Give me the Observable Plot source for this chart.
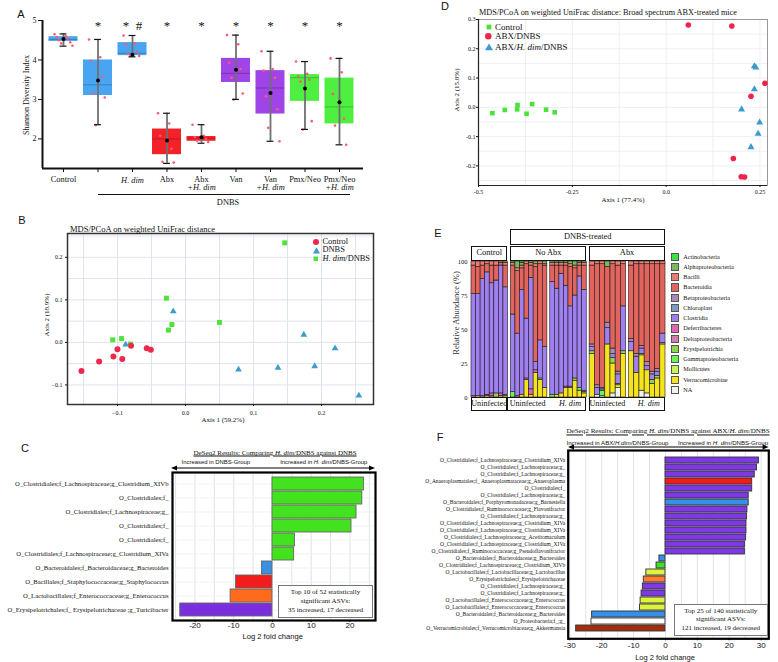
<!DOCTYPE html>
<html><head><meta charset="utf-8">
<script src="https://cdn.jsdelivr.net/npm/d3@7"></script>
<script src="https://cdn.jsdelivr.net/npm/@observablehq/plot@0.6"></script>
<style>
body{margin:0;background:#fff;}
#root{position:relative;width:778px;height:662px;overflow:hidden;background:#fff;}
.abs{position:absolute;white-space:nowrap;line-height:1;color:#111;}
svg{overflow:visible;}
</style></head><body><div id="root"></div>
<script>
// ---------------- DATA ----------------
// Panel A: Shannon diversity
const aNames = ["Control","DNBS","H. dim/DNBS","Abx/DNBS","Abx+H. dim/DNBS","Van/DNBS","Van+H. dim/DNBS","Pmx/Neo/DNBS","Pmx/Neo+H. dim/DNBS"];
const aTick1 = ["Control","","H. dim","Abx","Abx","Van","Van","Pmx/Neo","Pmx/Neo"];
const aTick2 = ["","","","","+H. dim","","+H. dim","","+H. dim"];
const aTick1Italic = [false,false,true,false,false,false,false,false,false];
const aSig = ["","*","*\u2002#","*","*","*","*","*","*"];
const aClass = ["ctrl","ctrl","ctrl","abx","abx","van","van","pmx","pmx"];
const aQ1   = [4.47,3.10,4.11,1.60,1.94,3.43,2.63,2.95,2.38];
const aQ3   = [4.59,4.00,4.44,2.25,2.06,4.04,3.73,3.63,3.54];
const aMed  = [4.52,3.37,4.17,2.00,2.02,3.66,3.29,3.55,2.81];
const aMean = [4.53,3.48,4.13,1.96,2.04,3.75,3.16,3.28,2.93];
const aMin  = [4.35,2.36,4.08,1.38,1.89,3.00,1.94,2.24,1.85];
const aMax  = [4.66,4.52,4.62,2.65,2.36,4.63,4.22,3.96,4.04];
const aPoints = [
  [4.65,4.60,4.58,4.55,4.50,4.45,4.42,4.36],
  [4.52,4.07,3.98,3.58,3.15,3.05,2.35],
  [4.62,4.42,4.40,4.20,4.15,4.10,4.10],
  [2.65,2.39,2.08,1.75,1.42,1.40],
  [2.36,2.08,2.05,2.00,1.95,1.92],
  [4.63,4.40,3.93,3.77,3.55,3.15,3.00],
  [4.22,3.77,3.73,3.55,3.08,2.75,2.28,1.94],
  [3.96,3.65,3.58,3.50,3.45,2.45,2.24],
  [4.04,3.69,3.14,2.51,2.34,1.85]
];
const aYTicks = [2,3,4,5];

// Panel B: PCoA
const bGroups = ["Control","DNBS","H. dim/DNBS"];
const bCtrlX = [-0.153,-0.127,-0.106,-0.100,-0.093,-0.080,-0.057,-0.051];
const bCtrlY = [-0.067,-0.045,-0.033,-0.016,-0.039,-0.008,-0.014,-0.017];
const bDnbsX = [-0.088,-0.018,0.078,0.136,0.174,0.190,0.220,0.255];
const bDnbsY = [-0.005,0.073,-0.064,-0.060,0.018,-0.056,-0.014,-0.125];
const bHdimX = [-0.107,-0.094,-0.081,-0.028,-0.025,-0.020,0.050,0.146];
const bHdimY = [0.006,0.009,-0.004,0.104,0.029,0.042,0.047,0.234];
const bXTicks = [-0.1,0,0.1,0.2];
const bYTicks = [-0.1,0,0.1,0.2];

// Panel C: DESeq2 H. dim/DNBS vs DNBS
const cLabels = [
  "O_Clostridiales;f_Lachnospiraceae;g_Clostridium_XIVb",
  "O_Clostridiales;f_",
  "O_Clostridiales;f_Lachnospiraceae;g_",
  "O_Clostridiales;f_",
  "O_Clostridiales;f_",
  "O_Clostridiales;f_Lachnospiraceae;g_Clostridium_XIVa",
  "O_Bacteroidales;f_Bacteroidaceae;g_Bacteroides",
  "O_Bacillales;f_Staphylococcaceae;g_Staphylococcus",
  "O_Lactobacillales;f_Enterococcaceae;g_Enterococcus",
  "O_Erysipelotrichales;f_ Erysipelotrichaceae ;g_Turicibacter"
];
const cValues = [23.6,23.2,21.7,20.4,5.8,5.6,-2.7,-9.4,-10.8,-23.8];
const cOrder = ["Clostridiales","Clostridiales","Clostridiales","Clostridiales","Clostridiales","Clostridiales","Bacteroidales","Bacillales","Lactobacillales","Erysipelotrichales"];
const cXTicks = [-20,-10,0,10,20];

// Panel D: PCoA ABX-treated
const dGroups = ["Control","ABX/DNBS","ABX/H. dim/DNBS"];
const dCtrlX = [-0.463,-0.430,-0.396,-0.397,-0.372,-0.357,-0.320,-0.297];
const dCtrlY = [-0.020,-0.009,0.008,-0.007,-0.022,0.011,-0.008,-0.017];
const dAbxX = [0.059,0.175,0.263,0.226,0.179,0.200,0.209];
const dAbxY = [0.281,0.278,0.082,0.038,-0.175,-0.237,-0.238];
const dHdimX = [0.235,0.239,0.235,0.201,0.249,0.245,0.226];
const dHdimY = [0.140,0.136,0.062,-0.007,-0.052,-0.090,-0.136];
const dXTicks = [-0.5,-0.25,0,0.25];
const dYTicks = [-0.2,-0.1,0,0.1,0.2,0.3];

// Panel E: relative abundance (legend order; columns of each row)
const eTaxa = ["Actinobacteria","Alphaproteobacteria","Bacilli","Bacteroidia","Betaproteobacteria","Chloroplast","Clostridia","Deferribacteres","Deltaproteobacteria","Erysipelotrichia","Gammaproteobacteria","Mollicutes","Verrucomicrobiae","NA"];
const eCtrl = [
  [0,0,3,21,0,0,75,0,1,0,0,0,0,0],
  [0,0,4,20,0,0,75,0,0,0,0,0,1,0],
  [0,0,3,10,0,0,86,0,1,0,0,0,0,0],
  [0,0,2,6,0,0,90,1,0,0,0,0,1,0],
  [0,0,3,13,0,0,81,2,1,0,0,0,0,0],
  [0,0,3,11,0,0,83,0,0,3,0,0,0,0],
  [0,0,1,2,0,0,94,2,0,0,0,0,1,0],
  [0,1,2,16,0,0,79,0,0,1,0,0,1,0]
];
const eNoAbxUninf = [
  [0,1,2,36,0,0,57,0,0,0,4,0,0,0],
  [0,5,2,46,0,0,46,1,0,0,0,0,0,0],
  [1,2,2,16,0,0,77,0,0,0,0,0,2,0],
  [0,0,2,40,0,0,44,0,1,0,0,0,13,0],
  [0,1,2,9,0,0,82,4,0,0,0,0,2,0],
  [0,2,2,70,0,0,6,2,0,0,0,0,18,0],
  [0,0,2,56,0,0,28,0,0,0,1,0,13,0],
  [0,2,1,60,0,0,30,0,0,0,0,0,7,0]
];
const eNoAbxHdim = [
  [0,1,2,12,0,0,83,0,0,0,2,0,0,0],
  [0,1,2,17,0,0,78,0,0,0,0,0,2,0],
  [0,1,2,6,0,0,88,0,0,0,0,0,3,0],
  [0,1,2,15,0,0,74,0,1,0,0,0,7,0],
  [0,2,2,29,0,0,59,0,1,0,0,0,7,0],
  [0,3,2,20,0,0,61,0,0,2,0,0,12,0],
  [0,1,2,8,0,0,82,0,0,0,2,0,5,0],
  [0,1,2,18,0,0,74,0,1,0,1,0,3,0]
];
const eAbxUninf = [
  [0,0,3,58,2,0,3,0,0,2,0,0,32,0],
  [0,0,2,89,2,0,5,0,0,0,0,0,0,2],
  [0,0,2,91,1,0,1,0,0,0,4,0,0,1],
  [0,4,0,41,4,0,12,0,0,0,0,0,39,0],
  [0,0,2,62,4,0,3,0,0,4,0,0,22,3],
  [0,0,3,78,2,0,7,0,0,1,0,0,2,7],
  [0,0,2,31,0,0,33,0,0,2,0,0,32,0]
];
const eAbxHdim = [
  [0,0,3,54,2,0,7,0,0,0,0,0,34,0],
  [0,0,2,66,2,0,12,0,0,0,0,0,18,0],
  [0,0,2,60,2,0,4,0,0,1,0,0,26,5],
  [0,0,2,72,3,0,3,0,0,0,0,0,17,3],
  [0,0,2,79,2,0,4,0,0,3,0,0,10,0],
  [0,0,2,77,2,0,3,0,0,2,0,0,14,0],
  [0,0,2,51,0,0,7,0,0,1,0,0,39,0]
];
const eYTicks = [0,25,50,75,100];

// Panel F: DESeq2 H. dim/DNBS vs ABX/H. dim/DNBS
const fLabels = [
  "O_Clostridiales;f_Lachnospiraceae;g_Clostridium_XIVa",
  "O_Clostridiales;f_Lachnospiraceae;g_",
  "O_Clostridiales;f_Lachnospiraceae;g_",
  "O_Anaeroplasmatales;f_ Anaeroplasmataceae;g_Anaeroplasma",
  "O_Clostridiales;f_",
  "O_Clostridiales;f_Lachnospiraceae;g_",
  "O_Bacteroidales;f_Porphyromonadaceae;g_Barnesiella",
  "O_Clostridiales;f_Ruminococcaceae;g_Flavonifractor",
  "O_Clostridiales;f_Lachnospiraceae;g_",
  "O_Clostridiales;f_Lachnospiraceae;g_Clostridium_XIVa",
  "O_Clostridiales;f_Lachnospiraceae;g_Clostridium_XIVa",
  "O_Clostridiales;f_Lachnospiraceae;g_Acetitomaculum",
  "O_Clostridiales;f_Lachnospiraceae;g_Clostridium_XIVa",
  "O_Clostridiales;f_Ruminococcaceae;g_Pseudoflavonifractor",
  "O_Bacteroidales;f_Bacteroidaceae;g_Bacteroides",
  "O_Clostridiales;f_Lachnospiraceae;g_Clostridium_XIVb",
  "O_Lactobacillales;f_Lactobacillaceae;g_Lactobacillus",
  "O_Erysipelotrichales;f_Erysipelotrichaceae",
  "O_Clostridiales;f_Lachnospiraceae;g_",
  "O_Clostridiales;f_Lachnospiraceae;g_",
  "O_Lactobacillales;f_Enterococcaceae;g_Enterococcus",
  "O_Lactobacillales;f_Enterococcaceae;g_Enterococcus",
  "O_Bacteroidales;f_Bacteroidaceae;g_Bacteroides",
  "O_Proteobacteria;f_;g_",
  "O_Verrucomicrobiales;f_Verrucomicrobiaceae;g_Akkermansia"
];
const fValues = [29.3,28.7,28.0,27.2,27.2,26.1,26.1,25.7,25.6,25.4,25.4,25.3,24.9,24.9,-1.9,-2.8,-6.0,-6.8,-7.1,-7.5,-7.8,-8.0,-23.0,-23.2,-28.0];
const fGroup = ["Clostridiales","Clostridiales","Clostridiales","Anaeroplasmatales","Clostridiales","Clostridiales","Bacteroidales","Clostridiales","Clostridiales","Clostridiales","Clostridiales","Clostridiales","Clostridiales","Clostridiales","Bacteroidales","Clostridium_XIVb","Lactobacillales","Erysipelotrichales","Clostridiales","Clostridiales","Lactobacillales","Lactobacillales","Bacteroidales","Proteobacteria","Verrucomicrobiales"];
const fXTicks = [-30,-20,-10,0,10,20,30];

// ---------------- STYLE ----------------
const serif = '"Liberation Serif", "Times New Roman", serif';
const sans = '"Liberation Sans", Arial, sans-serif';
const aColors = {ctrl:"#3f9ff0", abx:"#f2161e", van:"#9a3ae6", pmx:"#45ee36"};
const bColors = ["#f0274c","#3e9ccc","#4fe33a"];
const dColors = ["#4be33a","#f0244a","#3e9ccc"];
const cColors = {Clostridiales:"#43e21f", Bacteroidales:"#3b8fe0", Bacillales:"#f21c1c", Lactobacillales:"#ff6b1c", Erysipelotrichales:"#7a2fdc"};
const fColors = {Clostridiales:"#7f38e6", Anaeroplasmatales:"#f51a1a", Bacteroidales:"#3490e8", Clostridium_XIVb:"#3fe023", Lactobacillales:"#dff23e", Erysipelotrichales:"#ff7b2e", Proteobacteria:"#ffffff", Verrucomicrobiales:"#a3300c"};
const eColors = ["#3ee04a","#7ab860","#ea7c70","#e2645c","#a88ab8","#7b9cc0","#a07ff0","#e464b4","#d27fb0","#8fd44a","#6cf25a","#c8f25c","#f5e31c","#eef3ee"];

// ---------------- HELPERS ----------------
const root = document.getElementById("root");
function put(node, left, top) {
  node.style.position = "absolute";
  node.style.left = left + "px";
  node.style.top = top + "px";
  root.appendChild(node);
  return node;
}
function txt(html, x, y, size, family, anchor, extra) {
  const d = document.createElement("div");
  d.className = "abs";
  d.innerHTML = html;
  d.style.fontSize = size + "px";
  d.style.fontFamily = family;
  const tr = {c:"translate(-50%,-50%)", l:"translate(0,-50%)", r:"translate(-100%,-50%)", rot:"translate(-50%,-50%) rotate(-90deg)"}[anchor || "c"];
  d.style.transform = tr;
  if (extra) d.style.cssText += extra;
  return put(d, x, y);
}
function hline(x1, x2, y, w) {
  const d = document.createElement("div");
  d.style.width = (x2 - x1) + "px";
  d.style.height = "0px";
  d.style.borderTop = (w || 1) + "px solid #111";
  return put(d, x1, y);
}
function arrowLine(x1, x2, y) {
  const w = x2 - x1;
  const s = document.createElementNS("http://www.w3.org/2000/svg", "svg");
  s.setAttribute("width", w); s.setAttribute("height", 6);
  s.innerHTML = `<line x1="3" y1="3" x2="${w-3}" y2="3" stroke="#000" stroke-width="1"/>
    <path d="M0,3L6,0.6L6,5.4Z" fill="#000"/><path d="M${w},3L${w-6},0.6L${w-6},5.4Z" fill="#000"/>`;
  return put(s, x1, y - 3);
}
function box(html, x, y, w, h, size, lh, border) {
  const d = document.createElement("div");
  d.className = "abs";
  d.style.cssText += `width:${w}px;height:${h}px;box-sizing:border-box;border:${border};background:#fff;display:flex;align-items:center;justify-content:center;text-align:center;font-family:${serif};font-size:${size}px;line-height:${lh}px;`;
  d.innerHTML = html;
  return put(d, x, y);
}
function symbolSvg(shape, color, s) {
  let inner;
  if (shape === "circle") inner = `<circle cx="${s/2}" cy="${s/2}" r="${s/2}" fill="${color}"/>`;
  else if (shape === "square") inner = `<rect x="${s*0.1}" y="${s*0.1}" width="${s*0.8}" height="${s*0.8}" fill="${color}"/>`;
  else inner = `<path d="M${s/2},${s*0.05}L${s},${s*0.92}L0,${s*0.92}Z" fill="${color}"/>`;
  const d = document.createElement("div");
  d.innerHTML = `<svg width="${s}" height="${s}">${inner}</svg>`;
  d.style.lineHeight = "0";
  return d;
}
function legendRow(shape, color, s, sx, y, label, tx, size) {
  const d = symbolSvg(shape, color, s);
  put(d, sx - s/2, y - s/2);
  txt(label, tx, y, size, serif, "l");
}
const plotStyle = {fontFamily: serif, fontSize: "7px", background: "transparent", overflow: "visible", color: "#111"};

// ---------------- PANEL A ----------------
const aXDomain = [-0.609, 8.696];
const aYDomain = [1.25, 5.0];
const aBoxes = aNames.map((name, i) => ({i, name, q1: aQ1[i], q3: aQ3[i], med: aMed[i], mean: aMean[i], lo: aMin[i], hi: aMax[i], cls: aClass[i], t1: aTick1[i], t2: aTick2[i], it: aTick1Italic[i], sig: aSig[i]}));
const aPts = aPoints.flatMap((vals, i) => vals.map((v, k) => ({i, v, k})));
const jit = k => (((k * 5) % 9) - 4) * 0.065;
const hw = 0.42;
const chartA = Plot.plot({
  width: 390, height: 215, marginLeft: 42, marginRight: 27, marginTop: 20, marginBottom: 47,
  style: plotStyle,
  x: {domain: aXDomain},
  y: {domain: aYDomain},
  color: {domain: Object.keys(aColors), range: Object.values(aColors)},
  marks: [
    Plot.rect(aBoxes, {x1: d => d.i - hw, x2: d => d.i + hw, y1: "q1", y2: "q3", fill: "cls", fillOpacity: 0.95}),
    Plot.ruleY(aBoxes, {y: "med", x1: d => d.i - hw, x2: d => d.i + hw, stroke: "#000", strokeOpacity: 0.22}),
    Plot.dot(aPts, {x: d => d.i + jit(d.k), y: "v", r: 1.3, fill: "#ff5a70"}),
    Plot.ruleX(aBoxes, {x: "i", y1: "lo", y2: "hi", stroke: "#707070", strokeWidth: 1.8}),
    Plot.ruleY(aBoxes, {y: "lo", x1: d => d.i - 0.1, x2: d => d.i + 0.1, stroke: "#111", strokeWidth: 1.2}),
    Plot.ruleY(aBoxes, {y: "hi", x1: d => d.i - 0.1, x2: d => d.i + 0.1, stroke: "#111", strokeWidth: 1.2}),
    Plot.dot(aBoxes, {x: "i", y: "mean", r: 2, fill: "#000"}),
    Plot.ruleY([aYDomain[0]], {stroke: "#111", strokeWidth: 2}),
    Plot.ruleX([aXDomain[0]], {stroke: "#111", strokeWidth: 2}),
    Plot.axisY({ticks: aYTicks, tickFormat: d => String(d), tickSize: 4, tickPadding: 2, fontSize: 8, fontFamily: serif, label: null}),
    Plot.axisX({ticks: d3.range(aNames.length), tickSize: 4, tickFormat: () => "", label: null}),
    Plot.text(aBoxes.filter(d => !d.it), {x: "i", text: "t1", frameAnchor: "bottom", dy: 13, fontSize: 8.4, fontFamily: serif, fill: "#111"}),
    Plot.text(aBoxes.filter(d => d.it), {x: "i", text: "t1", frameAnchor: "bottom", dy: 14, fontSize: 8.4, fontFamily: serif, fontStyle: "italic", fill: "#111"}),
    Plot.text(aBoxes, {x: "i", text: "t2", frameAnchor: "bottom", dy: 21.5, fontSize: 8.4, fontFamily: serif, fontStyle: "italic", fill: "#111"}),
    Plot.text(aBoxes, {x: "i", text: "sig", frameAnchor: "top", dy: 0, fontSize: 13, fontFamily: serif, fill: "#111"})
  ]
});
put(chartA, 0, 0);
txt("A", 21, 13.5, 11, sans);
txt("Shannon Diversity Index", 27, 95, 8, serif, "rot");
hline(98, 350, 194, 1);
txt("DNBS", 228, 202.5, 8.4, serif);

// ---------------- PANEL B ----------------
const bRows = [
  ...bCtrlX.map((x, k) => ({x, y: bCtrlY[k], g: bGroups[0]})),
  ...bDnbsX.map((x, k) => ({x, y: bDnbsY[k], g: bGroups[1]})),
  ...bHdimX.map((x, k) => ({x, y: bHdimY[k], g: bGroups[2]}))
];
const chartB = Plot.plot({
  width: 385, height: 210, marginLeft: 67, marginRight: 12, marginTop: 11, marginBottom: 28,
  style: plotStyle,
  x: {domain: [-0.1735, 0.2765]},
  y: {domain: [-0.146, 0.256]},
  color: {domain: bGroups, range: bColors},
  marks: [
    Plot.gridX({ticks: d3.range(-0.15, 0.276, 0.05), stroke: "#dfe3ee", strokeOpacity: 1}),
    Plot.gridY({ticks: d3.range(-0.1, 0.256, 0.05), stroke: "#dfe3ee", strokeOpacity: 1}),
    Plot.frame({stroke: "#333", strokeWidth: 1.5}),
    Plot.axisX({ticks: bXTicks, tickFormat: d3.format(".1f"), tickSize: 2, tickPadding: 4, fontSize: 6, label: null}),
    Plot.axisY({ticks: bYTicks, tickFormat: d3.format(".1f"), tickSize: 2, tickPadding: 3, fontSize: 6, label: null}),
    Plot.dot(bRows.filter(d => d.g === bGroups[2]), {x: "x", y: "y", fill: "g", symbol: "square", r: 2.8}),
    Plot.dot(bRows.filter(d => d.g === bGroups[0]), {x: "x", y: "y", fill: "g", symbol: "circle", r: 3}),
    Plot.dot(bRows.filter(d => d.g === bGroups[1]), {x: "x", y: "y", fill: "g", symbol: "triangle", r: 2.5})
  ]
});
put(chartB, 0, 222);
txt("B", 22, 220, 11, sans);
txt("MDS/PCoA on weighted UniFrac distance", 70, 229, 8.5, serif, "l");
txt("Axis 1 (59.2%)", 223, 420, 7, serif);
txt("Axis 2 (18.9%)", 47, 315, 7, serif, "rot");
legendRow("circle", bColors[0], 6, 316, 242.3, "Control", 322.5, 8.4);
legendRow("triangle", bColors[1], 7, 316, 250.3, "DNBS", 322.5, 8.4);
legendRow("square", bColors[2], 5.5, 316, 258.7, "<i>H. dim</i>/DNBS", 322.5, 8.4);

// ---------------- PANEL C ----------------
const cRows = cLabels.map((l, i) => ({i, label: l, value: cValues[i], order: cOrder[i]}));
const chartC = Plot.plot({
  width: 385, height: 175, marginLeft: 172, marginRight: 10, marginTop: 7, marginBottom: 20,
  style: plotStyle,
  x: {domain: [-25.8, 26.6]},
  y: {type: "band", domain: d3.range(cLabels.length), padding: 0.1},
  color: {domain: Object.keys(cColors), range: Object.values(cColors)},
  marks: [
    Plot.gridX({ticks: d3.range(-25, 26, 5), stroke: "#dde3ee", strokeOpacity: 1}),
    Plot.gridY({stroke: "#eef1f6", strokeOpacity: 1}),
    Plot.barX(cRows, {x: "value", y: "i", fill: "order", stroke: "#666", strokeWidth: 0.9}),
    Plot.axisY({tickFormat: i => cLabels[i], tickSize: 0, tickPadding: 4, fontSize: 6.7, fontFamily: serif, label: null}),
    Plot.axisX({ticks: cXTicks, tickFormat: d => String(d), tickSize: 2, tickPadding: 0, fontSize: 8.1, fontFamily: sans, label: null}),
    Plot.frame({stroke: "#000", strokeWidth: 2.2})
  ]
});
put(chartC, 0, 465);
txt("C", 25, 448, 11, sans);
txt("<u>DeSeq2 Results: Comparing <i>H. dim</i>/DNBS against DNBS</u>", 275, 453, 7, serif);
arrowLine(171, 375, 468);
txt("Increased in DNBS-Group", 215.8, 463.3, 5.9, sans);
txt("Increased in <i>H. dim</i>/DNBS-Group", 323.7, 463.3, 5.9, sans);
box("Top 10 of 52 statistically<br>significant ASVs:<br>35 increased, 17 decreased", 278, 585, 95, 33, 7, 8.7, "1.2px solid #777");
txt("Log 2 fold change", 272.7, 636.5, 7.6, sans);

// ---------------- PANEL D ----------------
const dRows = [
  ...dCtrlX.map((x, k) => ({x, y: dCtrlY[k], g: dGroups[0]})),
  ...dAbxX.map((x, k) => ({x, y: dAbxY[k], g: dGroups[1]})),
  ...dHdimX.map((x, k) => ({x, y: dHdimY[k], g: dGroups[2]}))
];
const dXDomain = [-0.5, 0.27], dYDomain = [-0.267, 0.3];
const chartD = Plot.plot({
  width: 393, height: 205, marginLeft: 93, marginRight: 11, marginTop: 14, marginBottom: 25,
  style: plotStyle,
  x: {domain: dXDomain},
  y: {domain: dYDomain},
  color: {domain: dGroups, range: dColors},
  marks: [
    Plot.gridX({ticks: d3.range(-0.5, 0.27, 0.125), stroke: "#eceff5", strokeOpacity: 1}),
    Plot.gridY({ticks: d3.range(-0.25, 0.3, 0.05), stroke: "#eceff5", strokeOpacity: 1}),
    Plot.frame({stroke: "#999", strokeWidth: 1}),
    Plot.ruleX([dXDomain[0]], {stroke: "#222", strokeWidth: 1.2}),
    Plot.ruleY([dYDomain[0]], {stroke: "#222", strokeWidth: 1.2}),
    Plot.axisX({ticks: dXTicks, tickFormat: d => d === 0 ? "0.0" : String(d), tickSize: 2, tickPadding: 2, fontSize: 6, label: null}),
    Plot.axisY({ticks: dYTicks, tickFormat: d => d3.format(".1f")(d).replace("−", "-"), tickSize: 2, tickPadding: 1, fontSize: 6, label: null}),
    Plot.dot(dRows.filter(d => d.g === dGroups[0]), {x: "x", y: "y", fill: "g", symbol: "square", r: 2.6}),
    Plot.dot(dRows.filter(d => d.g === dGroups[1]), {x: "x", y: "y", fill: "g", symbol: "circle", r: 2.8}),
    Plot.dot(dRows.filter(d => d.g === dGroups[2]), {x: "x", y: "y", fill: "g", symbol: "triangle", r: 2.6})
  ]
});
put(chartD, 385, 5);
txt("D", 445, 6, 11, sans);
txt("MDS/PCoA on weighted UniFrac distance: Broad spectrum ABX-treated mice", 479, 13.3, 8.2, serif, "l");
txt("Axis 1 (77.4%)", 623, 200, 7, serif);
txt("Axis 2 (15.8%)", 457, 90, 7, serif, "rot");
legendRow("square", dColors[0], 6, 488.5, 27, "Control", 495, 9);
legendRow("circle", dColors[1], 6.5, 488.5, 36.3, "ABX/DNBS", 495, 9);
legendRow("triangle", dColors[2], 8, 488.5, 46.5, "ABX/<i>H. dim</i>/DNBS", 495, 9);

// ---------------- PANEL E ----------------
const eSets = [eCtrl, eNoAbxUninf, eNoAbxHdim, eAbxUninf, eAbxHdim];
const eGap = 0.08;
const eCells = [];
eSets.forEach((bars, g) => {
  const g0 = g * (1 + eGap);
  bars.forEach((row, i) => {
    const total = d3.sum(row);
    let cum = 0;
    for (let t = eTaxa.length - 1; t >= 0; t--) {
      const v = row[t] * 100 / total;
      if (v > 0) eCells.push({x1: g0 + i / bars.length, x2: g0 + (i + 1) / bars.length, y1: cum, y2: cum + v, taxon: eTaxa[t]});
      cum += v;
    }
  });
});
const chartE = Plot.plot({
  width: 290, height: 190, marginLeft: 86, marginRight: 10, marginTop: 36, marginBottom: 18,
  style: plotStyle,
  x: {domain: [0, eSets.length + (eSets.length - 1) * eGap], axis: null},
  y: {domain: [0, 100]},
  color: {domain: eTaxa, range: eColors},
  marks: [
    Plot.rect(eCells, {x1: "x1", x2: "x2", y1: "y1", y2: "y2", fill: "taxon", stroke: "#1a1a1a", strokeWidth: 0.6}),
    Plot.axisY({ticks: eYTicks, tickSize: 0, tickPadding: 4, fontSize: 6.5, label: null})
  ]
});
put(chartE, 385, 225);
const ex = chartE.scale("x");
const gx = g => [385 + ex.apply(g * (1 + eGap)), 385 + ex.apply(g * (1 + eGap) + 1)];
function strip(html, x1, x2, y1, y2, size) {
  box(html, x1, y1, x2 - x1, y2 - y1, size, size, "1px solid #111");
}
txt("E", 438, 233, 11, sans);
strip("DNBS-treated", gx(1)[0], gx(4)[1], 229, 245, 8.3);
strip("Control", gx(0)[0], gx(0)[1], 246, 261, 8.4);
strip("No Abx", gx(1)[0], gx(2)[1], 246, 261, 8.4);
strip("Abx", gx(3)[0], gx(4)[1], 246, 261, 8.4);
strip("Uninfected", gx(0)[0], gx(0)[1], 397, 410.5, 8.1);
strip("", gx(0)[1], gx(2)[1], 397, 410.5, 8.1);
strip("", gx(3)[0], gx(4)[1], 397, 410.5, 8.1);
txt("Uninfected", (gx(1)[0] + gx(1)[1]) / 2 - 1, 403.7, 8.1, serif);
txt("<i>H. dim</i>", (gx(2)[0] + gx(2)[1]) / 2 + 2, 403.7, 8.1, serif);
txt("Uninfected", (gx(3)[0] + gx(3)[1]) / 2, 403.7, 8.1, serif);
txt("<i>H. dim</i>", (gx(4)[0] + gx(4)[1]) / 2 + 2, 403.7, 8.1, serif);
txt("Relative Abundance (%)", 456, 313, 8.5, serif, "rot", "color:#333;");
eTaxa.forEach((t, k) => {
  const y = 256.7 + k * 10.25;
  const sq = document.createElement("div");
  sq.style.cssText = `width:8px;height:8.3px;box-sizing:border-box;background:${eColors[k]};border:0.8px solid #555;`;
  put(sq, 671, y - 4.15);
  txt(t, 683.3, y, 6.2, serif, "l");
});

// ---------------- PANEL F ----------------
const fRows = fLabels.map((l, i) => ({i, label: l, value: fValues[i], group: fGroup[i]}));
const chartF = Plot.plot({
  width: 393, height: 217, marginLeft: 182.7, marginRight: 9.7, marginTop: 5, marginBottom: 23.7,
  style: plotStyle,
  x: {domain: [-30.5, 32.4]},
  y: {type: "band", domain: d3.range(fLabels.length), paddingInner: 0.12, paddingOuter: 0.33},
  color: {domain: Object.keys(fColors), range: Object.values(fColors)},
  marks: [
    Plot.gridX({ticks: d3.range(-30, 33, 5), stroke: "#dde3ee", strokeOpacity: 1}),
    Plot.barX(fRows, {x: "value", y: "i", fill: "group", stroke: "#333", strokeWidth: 0.9}),
    Plot.axisY({tickFormat: i => fLabels[i], tickSize: 0, tickPadding: 3, fontSize: 5.5, fontFamily: serif, label: null}),
    Plot.axisX({ticks: fXTicks, tickFormat: d => String(d), tickSize: 2, tickPadding: 1, fontSize: 8.1, fontFamily: sans, label: null}),
    Plot.frame({stroke: "#000", strokeWidth: 2.2})
  ]
});
put(chartF, 385, 445);
txt("F", 440, 437, 11, sans);
txt("<u>DeSeq2 Results: Comparing <i>H. dim</i>/DNBS against ABX/<i>H. dim</i>/DNBS</u>", 668, 432, 7.1, serif);
arrowLine(567.7, 768.3, 447);
txt("Increased in ABX/<i>H.dim</i>/DNBS-Group", 617.5, 443, 6.1, sans);
txt("Increased in <i>H. dim</i>/DNBS-Group", 723, 443, 6.1, sans);
box("Top 25 of 140 statistically<br>significant ASVs:<br>121 increased, 19 decreased", 674, 604, 93.7, 31.7, 7, 8.8, "1.2px solid #777");
txt("Log 2 fold change", 665, 657.5, 7.5, sans);
</script></body></html>
